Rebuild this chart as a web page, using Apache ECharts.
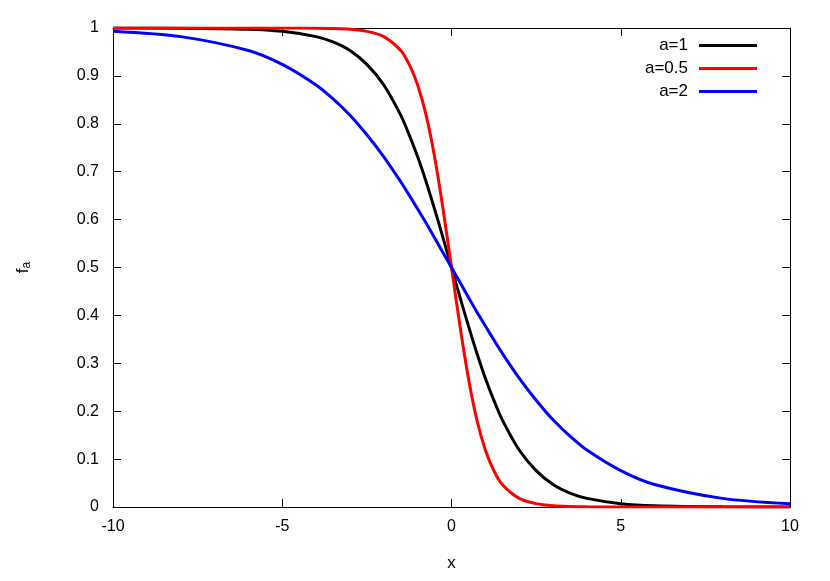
<!DOCTYPE html>
<html><head><meta charset="utf-8">
<script src="https://cdn.jsdelivr.net/npm/echarts@6/dist/echarts.min.js"></script>
<style>html,body{margin:0;padding:0;background:#fff}#c{width:830px;height:581px}</style>
</head><body><div id="c"></div>
<script>
const xs = [-10,-8,-6,-5,-4,-3.5,-3,-2.5,-2,-1.5,-1.25,-1,-0.75,-0.5,-0.25,0,0.25,0.5,0.75,1,1.25,1.5,2,2.5,3,3.5,4,5,6,8,10];
const a1 = [1.0,0.9997,0.9975,0.993,0.982,0.971,0.953,0.924,0.881,0.818,0.777,0.731,0.679,0.622,0.562,0.5,0.438,0.378,0.321,0.269,0.223,0.182,0.119,0.076,0.047,0.029,0.018,0.007,0.0025,0.0003,0.0];
const a05 = [1,1,1,1,0.9997,0.9991,0.9975,0.993,0.982,0.953,0.924,0.881,0.818,0.731,0.622,0.5,0.378,0.269,0.182,0.119,0.076,0.047,0.018,0.007,0.0025,0.0009,0.0003,0,0,0,0];
const a2 = [0.9933,0.982,0.953,0.924,0.881,0.852,0.818,0.777,0.731,0.679,0.651,0.622,0.593,0.562,0.531,0.5,0.469,0.438,0.407,0.378,0.349,0.321,0.269,0.223,0.182,0.148,0.119,0.076,0.047,0.018,0.0067];
const names = ['a=1','a=0.5','a=2'];
const colors = ['#000000','#ff0000','#0000ff'];
const font = 'Liberation Sans, Arial, sans-serif';
const pair = v => xs.map((x,i)=>[x,v[i]]);
const chart = echarts.init(document.getElementById('c'));
const axBase = () => ({axisLine:{show:true,onZero:false,lineStyle:{color:'#000',width:1}},splitLine:{show:false},axisTick:{show:true,inside:true,length:8,lineStyle:{color:'#000'}}});
chart.setOption({
  animation:false,
  grid:{left:113,right:40,top:28,bottom:74},
  legend:{right:68,top:32,orient:'vertical',align:'right',itemWidth:58,itemHeight:3,itemGap:6,icon:'rect',
    textStyle:{fontFamily:font,fontSize:17,color:'#000',padding:[0,6,0,0]},data:names},
  xAxis:[
    Object.assign(axBase(),{type:'value',min:-10,max:10,interval:5,position:'bottom',name:'x',nameLocation:'middle',nameGap:48,
      nameTextStyle:{fontFamily:font,fontSize:17,color:'#000'},
      axisLabel:{fontFamily:font,fontSize:16,color:'#000',margin:12}}),
    Object.assign(axBase(),{type:'value',min:-10,max:10,interval:5,position:'top',axisLabel:{show:false}})
  ],
  yAxis:[
    Object.assign(axBase(),{type:'value',min:0,max:1,interval:0.1,position:'left',name:'{a|f}{b|a}',nameLocation:'middle',nameGap:80,nameRotate:90,
      nameTextStyle:{rich:{a:{fontFamily:font,fontSize:17,color:'#000'},b:{fontFamily:font,fontSize:12,color:'#000',padding:[8,0,0,0]}}},
      axisLabel:{fontFamily:font,fontSize:16,color:'#000',margin:14,formatter:v=>String(Math.round(v*10)/10)}}),
    Object.assign(axBase(),{type:'value',min:0,max:1,interval:0.1,position:'right',axisLabel:{show:false}})
  ],
  series:[a1,a05,a2].map((v,i)=>({name:names[i],type:'line',smooth:0.3,showSymbol:false,data:pair(v),
    lineStyle:{color:colors[i],width:3},itemStyle:{color:colors[i]}}))
});
</script></body></html>
